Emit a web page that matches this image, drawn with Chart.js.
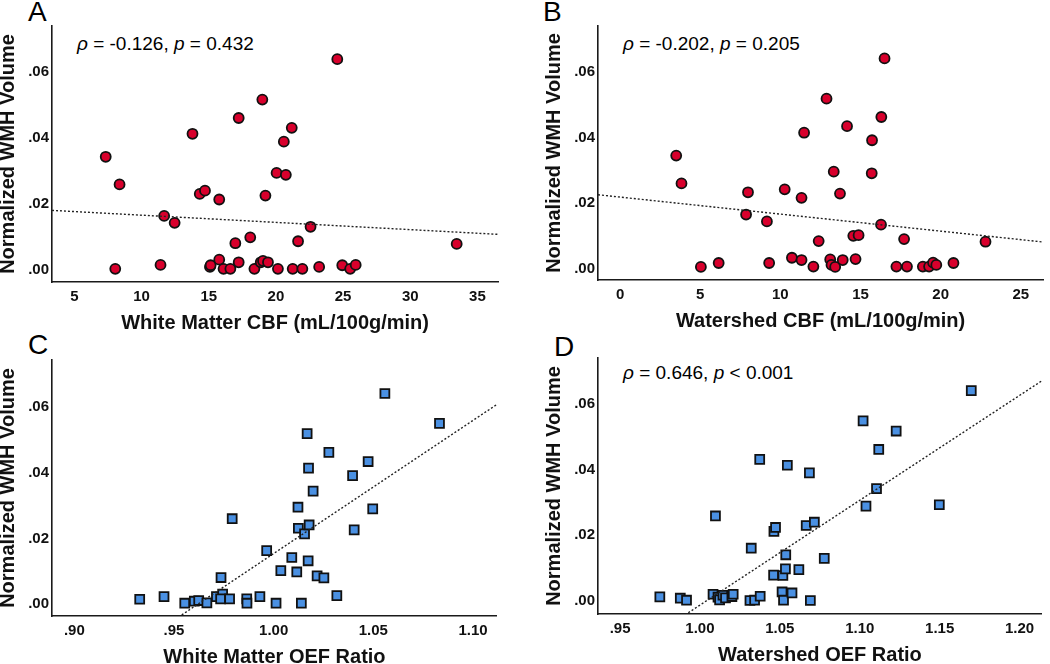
<!DOCTYPE html>
<html>
<head>
<meta charset="utf-8">
<script src="https://cdn.jsdelivr.net/npm/chart.js@4.4.1/dist/chart.umd.min.js"></script>
<style>
  body { margin: 0; background: #fff; width: 1050px; height: 664px; overflow: hidden; position: relative;
         font-family: "Liberation Sans", Arial, sans-serif; }
  canvas { position: absolute; }
  .letter { position: absolute; font-size: 28px; line-height: 28px; color: #000; }
  .stat { position: absolute; font-size: 19px; line-height: 19px; color: #000; white-space: nowrap; }
</style>
</head>
<body>
<div class="letter" style="left:28px;top:-2px">A</div>
<div class="letter" style="left:543px;top:-2px">B</div>
<div class="letter" style="left:28px;top:331px">C</div>
<div class="letter" style="left:554px;top:333px">D</div>

<div class="stat" style="left:77px;top:34px"><i>ρ</i> = -0.126, <i>p</i> = 0.432</div>
<div class="stat" style="left:623px;top:34px"><i>ρ</i> = -0.202, <i>p</i> = 0.205</div>
<div class="stat" style="left:623px;top:363px"><i>ρ</i> = 0.646, <i>p</i> &lt; 0.001</div>

<canvas id="chartA"></canvas>
<canvas id="chartB"></canvas>
<canvas id="chartC"></canvas>
<canvas id="chartD"></canvas>

<script>
const family = '"Liberation Sans", Arial, sans-serif';

// A: white matter CBF vs WMH
const wmCbf = [7.33, 8.36, 8.04, 11.41, 11.68, 12.46, 13.79, 14.33, 14.72, 15.78,
               15.09, 15.14, 15.78, 16.1, 16.61, 16.98, 17.23, 17.23, 18.09, 18.4,
               18.87, 19.04, 19.41, 18.99, 19.22, 20.05, 20.15, 20.59, 20.74, 21.18,
               21.25, 21.65, 21.97, 22.58, 23.22, 24.57, 24.94, 25.53, 25.94, 33.46];
const wmhVsWmCbf = [0.0343, 0.0259, 0.0002, 0.0014, 0.0163, 0.0142, 0.0413, 0.0230, 0.0240, 0.0213,
                    0.0008, 0.0013, 0.0030, 0.0002, 0.0002, 0.0080, 0.0022, 0.0461, 0.0098, 0.0002,
                    0.0022, 0.0026, 0.0022, 0.0517, 0.0225, 0.0294, 0.0002, 0.0389, 0.0288, 0.0431,
                    0.0002, 0.0086, 0.0002, 0.0130, 0.0008, 0.0640, 0.0013, 0.0002, 0.0014, 0.0078];

// B: watershed CBF vs WMH
const wsCbf = [3.5, 3.83, 5.04, 6.15, 7.98, 7.86, 9.16, 9.3, 10.27, 10.72,
               11.32, 11.32, 11.48, 12.06, 12.39, 12.88, 13.11, 13.19, 13.42, 13.33,
               13.72, 13.89, 14.16, 14.55, 14.88, 14.69, 15.7, 15.72, 16.28, 16.3,
               16.5, 17.24, 17.72, 17.9, 18.89, 19.28, 19.53, 19.73, 20.8, 22.8];
const wmhVsWsCbf = [0.0345, 0.0260, 0.0005, 0.0017, 0.0233, 0.0165, 0.0144, 0.0017, 0.0242, 0.0033,
                    0.0026, 0.0216, 0.0415, 0.0006, 0.0084, 0.0519, 0.0028, 0.0011, 0.0005, 0.0296,
                    0.0229, 0.0026, 0.0435, 0.0100, 0.0102, 0.0029, 0.0291, 0.0392, 0.0134, 0.0463,
                    0.0642, 0.0006, 0.0090, 0.0006, 0.0006, 0.0006, 0.0018, 0.0011, 0.0017, 0.0082];

// C: white matter OEF ratio vs WMH
const wmOef = [0.9328, 0.9450, 0.9554, 0.9602, 0.9624, 0.9665, 0.9713, 0.9744, 0.9734, 0.9779,
               0.9736, 0.9792, 0.9865, 0.9866, 0.9931, 0.9965, 1.0012, 1.0036, 1.0091, 1.0116,
               1.0122, 1.0124, 1.0139, 1.0155, 1.0178, 1.0173, 1.0168, 1.0175, 1.0198, 1.0218,
               1.0252, 1.0277, 1.0317, 1.0396, 1.0404, 1.0474, 1.0497, 1.0558, 1.0832];
const wmhVsWmOef = [0.0015, 0.0023, 0.0003, 0.0009, 0.0011, 0.0004, 0.0023, 0.0031, 0.0016, 0.0016,
                    0.0081, 0.0260, 0.0016, 0.0003, 0.0023, 0.0163, 0.0003, 0.0102, 0.0142, 0.0098,
                    0.0295, 0.0231, 0.0003, 0.0214, 0.0241, 0.0132, 0.0519, 0.0414, 0.0344, 0.0086,
                    0.0080, 0.0462, 0.0026, 0.0391, 0.0226, 0.0434, 0.0290, 0.0641, 0.0550];

// D: watershed OEF ratio vs WMH
const wsOef = [0.9749, 0.9877, 0.9916, 1.0082, 1.0097, 1.0113, 1.0123, 1.0144, 1.0160, 1.0200,
               1.0208, 1.0313, 1.0342, 1.0321, 1.0377, 1.0374, 1.0461, 1.0463, 1.0473, 1.0514,
               1.0519, 1.0523, 1.0535, 1.0537, 1.0547, 1.0576, 1.0619, 1.0665, 1.0716, 1.0685,
               1.0691, 1.0778, 1.1021, 1.1039, 1.1105, 1.1119, 1.1228, 1.1498, 1.1698];
const wmhVsWsOef = [0.0013, 0.0009, 0.0003, 0.0021, 0.0259, 0.0012, 0.0004, 0.0018, 0.0010, 0.0014,
                    0.0021, 0.0002, 0.0003, 0.0161, 0.0015, 0.0431, 0.0079, 0.0212, 0.0224, 0.0028,
                    0.0078, 0.0003, 0.0098, 0.0141, 0.0413, 0.0025, 0.0096, 0.0230, 0.0240, 0.0390,
                    0.0002, 0.0130, 0.0548, 0.0289, 0.0342, 0.0461, 0.0517, 0.0293, 0.0640];

// fit lines [intercept, slope]
const fitWmCbf = [0.01873, -0.0002197];
const fitWsCbf = [0.02183, -0.000520];
const fitWmOef = [-0.3897, 0.4051];
const fitWsOef = [-0.3198, 0.3186];

// axis ranges and ticks
const yRangeA = [-0.0038, 0.0741];
const yRangeB = [-0.0035, 0.0741];
const yRangeC = [-0.0036, 0.0743];
const yRangeD = [-0.0039, 0.0739];
const xRangeA = [3.33, 36.55];
const xRangeB = [-1.38, 26.4];
const xRangeC = [0.8888, 1.112];
const xRangeD = [0.9362, 1.214];
const yTicks = [0, 0.02, 0.04, 0.06];
const xTicksA = [5, 10, 15, 20, 25, 30, 35];
const xTicksB = [0, 5, 10, 15, 20, 25];
const xTicksC = [0.90, 0.95, 1.00, 1.05, 1.10];
const xTicksD = [0.95, 1.00, 1.05, 1.10, 1.15, 1.20];

const yTitle = 'Normalized WMH Volume';

function fmtDec(v) { return v.toFixed(2).replace(/^0\./, '.'); }
function fmtInt(v) { return String(Math.round(v)); }

const redDot = { shape: 'circle', r: 5, fill: '#d8002c', bw: 1.8 };
const blueSq = { shape: 'rect', r: 6.3, fill: '#4a90e2', bw: 1.8 };

function makePanel(id, box, xs, ys, fit, xRange, yRange, xTicks, xFmt, xTitle, marker) {
    const canvas = document.getElementById(id);
    const w = box.right - box.left + 56;
    const h = 26 + (box.bottom - box.top) + 51;
    canvas.width = w;
    canvas.height = h;
    canvas.style.left = (box.left - 54) + 'px';
    canvas.style.top = (box.top - 26) + 'px';
    canvas.style.width = w + 'px';
    canvas.style.height = h + 'px';

    const pts = xs.map((x, i) => ({ x: x, y: ys[i] }));
    const line = xRange.map(x => ({ x: x, y: fit[0] + fit[1] * x }));

    new Chart(canvas, {
        type: 'scatter',
        data: {
            datasets: [{
                type: 'line',
                data: line,
                borderColor: '#222',
                borderWidth: 1.4,
                borderDash: [2, 2],
                pointRadius: 0,
                fill: false,
                order: 0
            }, {
                data: pts,
                pointStyle: marker.shape,
                pointRadius: marker.r,
                pointHoverRadius: marker.r,
                backgroundColor: marker.fill,
                borderColor: '#111',
                borderWidth: marker.bw,
                order: 1
            }]
        },
        options: {
            responsive: false,
            animation: false,
            devicePixelRatio: 1,
            layout: { padding: { left: 0, top: 26, right: 2, bottom: 0 } },
            plugins: { legend: { display: false }, tooltip: { enabled: false } },
            scales: {
                x: {
                    type: 'linear',
                    min: xRange[0],
                    max: xRange[1],
                    grid: { display: false, drawTicks: false },
                    border: { display: true, color: '#1a1a1a', width: 1.6 },
                    afterBuildTicks: s => { s.ticks = xTicks.map(v => ({ value: v })); },
                    afterFit: s => { s.height = 51; },
                    ticks: {
                        padding: 6, color: '#111', maxRotation: 0, autoSkip: false,
                        font: { family: family, size: 15, weight: 'bold' },
                        callback: v => xFmt(v)
                    },
                    title: {
                        display: true, text: xTitle, color: '#111', padding: 0,
                        font: { family: family, size: 20, weight: 'bold', lineHeight: 1 }
                    }
                },
                y: {
                    type: 'linear',
                    min: yRange[0],
                    max: yRange[1],
                    grid: { display: false, drawTicks: false },
                    border: { display: true, color: '#1a1a1a', width: 1.6 },
                    afterBuildTicks: s => { s.ticks = yTicks.map(v => ({ value: v })); },
                    afterFit: s => { s.width = 54; },
                    ticks: {
                        padding: 3, color: '#111', autoSkip: false,
                        font: { family: family, size: 15, weight: 'bold' },
                        callback: v => fmtDec(v)
                    },
                    title: {
                        display: true, text: yTitle, color: '#111', padding: 0,
                        font: { family: family, size: 20, weight: 'bold', lineHeight: 1 }
                    }
                }
            }
        }
    });
}

makePanel('chartA', { left: 52, top: 26, right: 503, bottom: 282 }, wmCbf, wmhVsWmCbf, fitWmCbf,
          xRangeA, yRangeA, xTicksA, fmtInt, 'White Matter CBF (mL/100g/min)', redDot);
makePanel('chartB', { left: 598, top: 26, right: 1048, bottom: 280 }, wsCbf, wmhVsWsCbf, fitWsCbf,
          xRangeB, yRangeB, xTicksB, fmtInt, 'Watershed CBF (mL/100g/min)', redDot);
makePanel('chartC', { left: 52, top: 360, right: 503, bottom: 616 }, wmOef, wmhVsWmOef, fitWmOef,
          xRangeC, yRangeC, xTicksC, fmtDec, 'White Matter OEF Ratio', blueSq);
makePanel('chartD', { left: 598, top: 358, right: 1048, bottom: 614 }, wsOef, wmhVsWsOef, fitWsOef,
          xRangeD, yRangeD, xTicksD, fmtDec, 'Watershed OEF Ratio', blueSq);
</script>
</body>
</html>
